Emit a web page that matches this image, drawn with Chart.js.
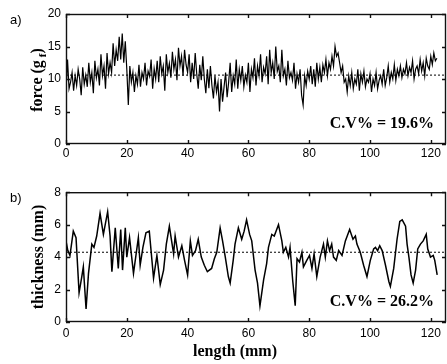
<!DOCTYPE html>
<html>
<head>
<meta charset="utf-8">
<script src="https://cdn.jsdelivr.net/npm/chart.js@4.4.0/dist/chart.umd.min.js"></script>
<style>
html, body { margin: 0; padding: 0; background: #fff; }
#wrap { position: relative; width: 447px; height: 364px; }
canvas { position: absolute; left: 0; }
</style>
</head>
<body>
<div id="wrap">
  <canvas id="chartA" width="447" height="180" style="top:0"></canvas>
  <canvas id="chartB" width="447" height="184" style="top:180px"></canvas>
</div>
<script>
"use strict";
var forceStep = 0.5;
var forceVal = [
  8.0, 13.0, 8.5, 9.5, 11.0, 8.2, 10.5, 9.0, 11.5, 10.0, 7.5, 11.8, 9.2, 10.6, 8.8, 12.5, 9.5, 11.0, 7.8, 12.8,
  10.2, 11.5, 9.0, 13.8, 10.5, 12.0, 8.5, 14.0, 10.8, 12.5, 11.0, 15.5, 12.0, 14.5, 12.8, 16.5, 13.0, 17.0, 12.5, 15.8,
  11.5, 6.0, 12.0, 9.5, 11.0, 8.0, 10.5, 9.2, 12.2, 8.8, 11.0, 10.0, 12.5, 9.0, 11.2, 10.4, 13.0, 8.5, 11.6, 10.0,
  12.8, 9.5, 13.5, 10.8, 12.0, 8.2, 13.8, 11.0, 12.4, 10.2, 14.2, 11.5, 13.0, 9.8, 14.8, 12.0, 13.5, 10.5, 14.5, 12.2,
  11.0, 13.8, 9.5, 12.5, 10.0, 14.0, 10.8, 8.5, 12.2, 9.8, 13.5, 10.0, 7.8, 11.5, 8.6, 12.0, 9.0, 7.0, 10.5, 8.0,
  9.5, 5.0, 10.0, 6.5, 8.8, 11.0, 7.2, 9.5, 12.5, 8.0, 10.5, 9.2, 13.0, 8.5, 11.5, 9.8, 12.0, 8.8, 10.6, 9.5,
  12.5, 8.0, 11.5, 10.2, 13.2, 9.0, 12.0, 10.5, 13.8, 9.5, 11.8, 10.8, 13.5, 9.2, 14.5, 11.0, 12.5, 10.0, 15.0, 11.2,
  12.0, 9.5, 14.5, 10.5, 11.5, 9.0, 12.8, 10.2, 11.0, 9.8, 12.5, 8.5, 10.8, 9.5, 11.5, 7.5, 6.0, 10.5, 9.0, 11.2,
  10.0, 12.0, 9.2, 11.5, 8.8, 12.5, 10.0, 11.8, 9.5, 12.2, 11.0, 13.0, 10.5, 12.5, 11.5, 13.5, 12.0, 15.0, 13.5, 14.0,
  12.5, 11.0, 12.0, 9.5, 10.0, 8.0, 10.5, 9.0, 11.0, 8.5, 10.0, 9.2, 11.5, 8.2, 10.8, 9.5, 11.2, 8.8, 10.0, 9.5,
  10.8, 8.0, 10.0, 9.0, 11.0, 8.5, 9.8, 10.5, 9.2, 11.5, 9.0, 10.2, 12.0, 9.5, 11.0, 10.0, 12.2, 9.8, 11.5, 10.5,
  12.0, 10.2, 11.5, 10.8, 12.5, 10.5, 11.8, 11.0, 12.8, 10.0, 11.5, 12.0, 10.8, 13.0, 11.2, 12.5, 10.5, 13.2, 12.0, 11.5,
  13.5, 12.2, 14.0, 12.8, 13.2
];
var forceMean = 10.6;

// thickness profile: positions (mm) and values (mm)
var thickLen = [
  0.0, 0.6, 1.3, 2.4, 3.3, 4.3, 5.2, 5.7, 6.6, 7.4, 8.5, 9.2, 10.1, 11.2, 12.3, 13.7, 14.5, 15.1, 16.2, 17.2,
  18.0, 18.6, 19.5, 20.0, 20.9, 22.2, 23.8, 24.4, 25.3, 26.3, 27.4, 28.8, 29.9, 31.0, 32.1, 33.0, 34.0, 35.4, 35.9, 37.0,
  38.1, 39.0, 40.0, 40.9, 41.6, 42.6, 43.5, 44.5, 45.5, 46.5, 47.9, 48.8, 49.6, 50.7, 51.5, 52.4, 53.4, 54.0, 55.0, 55.6,
  56.7, 57.8, 58.6, 59.4, 60.4, 61.1, 62.2, 63.0, 63.8, 65.0, 66.0, 66.6, 67.7, 68.5, 69.9, 71.0, 71.5, 72.3, 73.2, 73.7,
  74.6, 75.4, 76.0, 76.8, 77.6, 78.1, 79.2, 80.1, 80.9, 81.6, 82.5, 83.6, 84.7, 85.3, 86.0, 86.7, 87.4, 88.0, 88.9, 89.7,
  90.8, 91.9, 93.3, 94.4, 95.2, 95.7, 96.8, 97.9, 99.0, 100.1, 101.2, 101.8, 102.5, 103.2, 104.0, 105.1, 106.2, 106.7, 107.8, 108.9,
  109.8, 110.6, 111.7, 112.2, 112.8, 113.5, 114.2, 115.0, 115.7, 116.6, 117.5, 118.5, 119.0, 119.9, 120.8, 121.3, 122.1
];
var thickVal = [
  5.0, 4.4, 4.1, 5.6, 5.2, 1.8, 2.8, 3.4, 0.8, 3.0, 4.8, 4.6, 5.3, 6.7, 5.4, 6.8, 5.3, 3.1, 5.8, 3.3,
  5.7, 3.2, 5.8, 4.0, 5.2, 3.0, 5.2, 3.5, 4.6, 5.5, 5.6, 2.7, 4.1, 2.3, 3.2, 4.8, 5.9, 4.2, 5.3, 4.0,
  4.7, 3.8, 2.9, 5.0, 4.1, 4.4, 5.1, 4.0, 3.5, 3.1, 3.3, 3.9, 4.3, 5.8, 5.0, 4.0, 2.8, 2.4, 3.8, 4.8,
  5.8, 5.1, 5.6, 6.3, 5.4, 5.0, 3.2, 2.4, 1.0, 2.6, 3.6, 4.6, 5.4, 5.3, 6.0, 5.0, 4.3, 4.6, 4.0, 4.6,
  2.5, 1.0, 3.9, 3.7, 4.3, 3.4, 3.8, 4.1, 3.3, 4.2, 2.8, 4.0, 4.8, 4.0, 5.0, 4.4, 4.8, 4.0, 3.8, 4.4,
  4.1, 5.0, 5.7, 5.1, 5.3, 4.8, 4.3, 3.5, 2.8, 3.8, 4.5, 4.6, 4.4, 4.7, 4.4, 3.5, 2.5, 2.2, 3.3, 5.1,
  6.2, 6.3, 5.9, 4.8, 4.0, 2.9, 2.4, 3.2, 4.5, 4.8, 5.0, 5.4, 4.5, 4.0, 4.1, 3.8, 2.9
];
var thickMean = 4.3;

var xTicks = [0, 20, 40, 60, 80, 100, 120];
var forceTicks = [0, 5, 10, 15, 20];
var thickTicks = [0, 2, 4, 6, 8];

var serifBold = "bold 16px 'Liberation Serif', 'Times New Roman', serif";
var tickFont = { family: "'Liberation Sans', Arial, sans-serif", size: 12 };

// box, inward ticks and the text that is not part of an axis
var framePlugin = {
  id: "frame",
  afterDraw: function(chart, args, o) {
    var c = chart.ctx, a = chart.chartArea, xs = chart.scales.x, ys = chart.scales.y;
    c.save();
    c.strokeStyle = "#111";
    c.lineWidth = 1.4;
    c.strokeRect(a.left + 0.5, a.top + 0.5, a.right - a.left - 1, a.bottom - a.top - 1);
    c.beginPath();
    xs.ticks.forEach(function(t) {
      var p = Math.round(xs.getPixelForValue(t.value)) + 0.5;
      c.moveTo(p, a.bottom); c.lineTo(p, a.bottom - 4);
      c.moveTo(p, a.top); c.lineTo(p, a.top + 4);
    });
    ys.ticks.forEach(function(t) {
      var p = Math.round(ys.getPixelForValue(t.value)) + 0.5;
      c.moveTo(a.left, p); c.lineTo(a.left + 4, p);
      c.moveTo(a.right, p); c.lineTo(a.right - 4, p);
    });
    c.stroke();

    c.fillStyle = "#000";
    c.textBaseline = "middle";
    c.font = "13px 'Liberation Sans', Arial, sans-serif";
    c.textAlign = "left";
    c.fillText(o.panel, 10, o.panelY);

    c.font = serifBold;
    c.textAlign = "right";
    c.fillText(o.cv, 434, o.cvY);

    // y title, rotated, with optional subscript
    c.save();
    c.translate(o.yTitleX, o.yTitleY);
    c.rotate(-Math.PI / 2);
    c.textAlign = "left";
    c.font = serifBold;
    var w1 = c.measureText(o.yTitle[0]).width;
    c.font = "bold 11px 'Liberation Serif', 'Times New Roman', serif";
    var w2 = o.yTitle[1] ? c.measureText(o.yTitle[1]).width + 3 : 0;
    c.font = serifBold;
    var w3 = c.measureText(o.yTitle[2]).width;
    var x0 = -(w1 + w2 + w3) / 2;
    c.fillText(o.yTitle[0], x0, 0);
    if (o.yTitle[1]) {
      c.font = "bold 11px 'Liberation Serif', 'Times New Roman', serif";
      c.fillText(o.yTitle[1], x0 + w1 + 3, 5);
      c.font = serifBold;
    }
    c.fillText(o.yTitle[2], x0 + w1 + w2, 0);
    c.restore();

    if (o.xTitle) {
      c.textAlign = "center";
      c.font = serifBold;
      c.fillText(o.xTitle, 235, o.xTitleY);
    }
    c.restore();
  }
};

function makeChart(id, pts, mean, yMax, yTicks, padTop, xHeight, xPad, lineW, frame) {
  return new Chart(document.getElementById(id), {
    type: "line",
    data: {
      datasets: [{
        data: pts,
        borderColor: "#000",
        borderWidth: lineW,
        pointRadius: 0,
        tension: 0
      }, {
        data: [{ x: 0, y: mean }, { x: 125, y: mean }],
        borderColor: "#000",
        borderWidth: 1,
        borderDash: [2, 2],
        pointRadius: 0
      }]
    },
    options: {
      responsive: false,
      animation: false,
      layout: { padding: { top: padTop, right: 1, left: 0, bottom: 0 } },
      plugins: { legend: { display: false }, tooltip: { enabled: false }, frame: frame },
      scales: {
        x: {
          type: "linear", min: 0, max: 125,
          afterBuildTicks: function(s) { s.ticks = xTicks.map(function(v) { return { value: v }; }); },
          afterFit: function(s) { s.height = xHeight; },
          ticks: { font: tickFont, color: "#000", padding: xPad, maxRotation: 0, autoSkip: false },
          grid: { display: false, drawTicks: false },
          border: { display: false }
        },
        y: {
          min: 0, max: yMax,
          afterBuildTicks: function(s) { s.ticks = yTicks.map(function(v) { return { value: v }; }); },
          afterFit: function(s) { s.width = 66; },
          ticks: { font: tickFont, color: "#000", padding: 5 },
          grid: { display: false, drawTicks: false },
          border: { display: false }
        }
      }
    },
    plugins: [framePlugin]
  });
}

var forcePts = forceVal.map(function(v, i) { return { x: i * forceStep, y: v }; });
var thickPts = thickVal.map(function(v, i) { return { x: thickLen[i], y: v }; });

makeChart("chartA", forcePts, forceMean, 20, forceTicks, 14, 36, 2, 1.2, {
  panel: "a)", panelY: 20, cv: "C.V% = 19.6%", cvY: 124,
  yTitle: ["force (g", "f", ")"], yTitleX: 38, yTitleY: 80
});
makeChart("chartB", thickPts, thickMean, 8, thickTicks, 11, 42, 4, 1.5, {
  panel: "b)", panelY: 18, cv: "C.V% = 26.2%", cvY: 122,
  yTitle: ["thickness (mm)", "", ""], yTitleX: 39, yTitleY: 77,
  xTitle: "length (mm)", xTitleY: 172
});
</script>
</body>
</html>
